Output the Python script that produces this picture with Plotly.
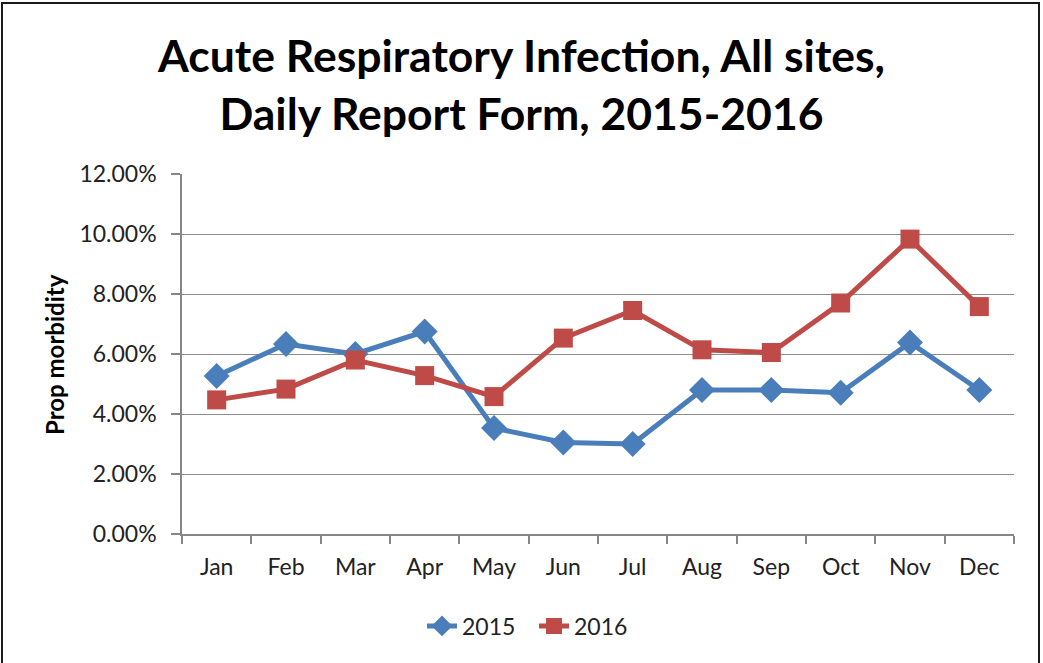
import plotly.graph_objects as go

months = ["Jan", "Feb", "Mar", "Apr", "May", "Jun", "Jul", "Aug", "Sep", "Oct", "Nov", "Dec"]
vals_2015 = [0.0527, 0.0633, 0.0600, 0.0675, 0.0353, 0.0305, 0.0300, 0.0480, 0.0480, 0.0471, 0.0638, 0.0480]
vals_2016 = [0.0447, 0.0483, 0.0580, 0.0528, 0.0458, 0.0653, 0.0745, 0.0614, 0.0605, 0.0770, 0.0983, 0.0758]
y_ticks = [0, 0.02, 0.04, 0.06, 0.08, 0.10, 0.12]

W, H = 1043, 663
L, R, T, B = 182, 1014, 174, 534
pw, ph = R - L, B - T

def px(x):
    return (x - L) / pw

def py(y):
    return (B - y) / ph

FONT = "Lato, Calibri, Carlito, sans-serif"

fig = go.Figure()
fig.add_trace(go.Scatter(
    x=months, y=vals_2015, name="2015", mode="lines+markers",
    line=dict(color="#4A7EBB", width=5),
    marker=dict(symbol="diamond", size=20, color="#4A7EBB"),
))
fig.add_trace(go.Scatter(
    x=months, y=vals_2016, name="2016", mode="lines+markers",
    line=dict(color="#BE4B48", width=5),
    marker=dict(symbol="square", size=19, color="#BE4B48"),
))

fig.update_layout(
    width=W, height=H,
    margin=dict(l=L, r=W - R, t=T, b=H - B),
    paper_bgcolor="white", plot_bgcolor="white",
    font=dict(family=FONT, color="#222222", size=20),
    title=dict(
        text="<b>Acute Respiratory Infection, All sites,</b><br><b>Daily Report Form, 2015-2016</b>",
        x=0.5, xanchor="center", xref="container",
        y=1 - 72 / H, yanchor="top", yref="container",
        font=dict(family=FONT, size=44.5, color="black"),
    ),
    showlegend=True,
    legend=dict(
        orientation="h", x=px(422), xanchor="left", y=py(626), yanchor="middle",
        font=dict(family=FONT, size=23, color="#222222"),
        entrywidth=67, entrywidthmode="pixels",
        bgcolor="rgba(0,0,0,0)",
    ),
    xaxis=dict(
        type="category", range=[-0.5, 11.5],
        showline=True, linecolor="#868686", linewidth=1.5,
        ticks="outside", ticklen=8, tickcolor="#868686", tickwidth=1.5,
        tickson="boundaries", showgrid=False,
        tickfont=dict(family=FONT, size=23, color="#222222"),
        ticklabelstandoff=12,
    ),
    yaxis=dict(
        range=[0, 0.12], tickvals=y_ticks, tickformat=".2%",
        showline=True, linecolor="#868686", linewidth=1.5,
        ticks="outside", ticklen=9, tickcolor="#868686", tickwidth=1.5,
        showgrid=True, gridcolor="#8C8C8C", gridwidth=1.2,
        zeroline=False,
        tickfont=dict(family=FONT, size=23, color="#222222"),
        ticklabelstandoff=10,
    ),
    annotations=[dict(
        text="<b>Prop morbidity</b>", textangle=-90,
        xref="paper", yref="paper", x=px(54), y=py(355),
        xanchor="center", yanchor="middle", showarrow=False,
        font=dict(family=FONT, size=24, color="black"),
    )],
    shapes=[dict(
        type="rect", xref="paper", yref="paper",
        x0=px(2), x1=px(1039), y0=py(667), y1=py(3),
        line=dict(color="#1a1a1a", width=2), layer="below",
    )],
)

fig.write_html("out.html", config={"displayModeBar": False},
               post_script="document.body.style.margin='0';")
